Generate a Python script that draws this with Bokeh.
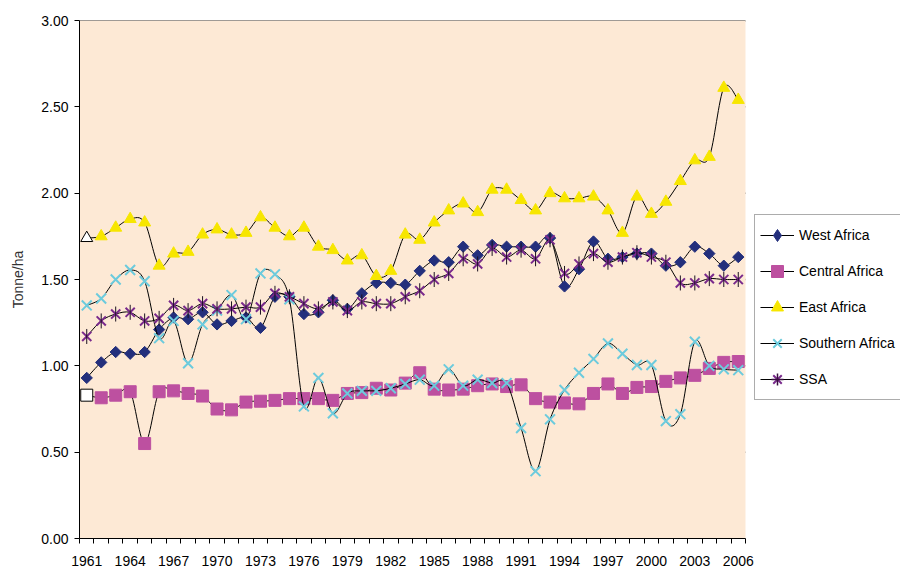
import numpy as np
from bokeh.plotting import figure
from bokeh.models import (FixedTicker, NumeralTickFormatter, Legend, LegendItem,
                          Range1d, BoxAnnotation)
from bokeh.embed import file_html
from bokeh.resources import INLINE

years = list(range(1961, 2007))
tick_years = list(range(1961, 2007, 3))

west_africa = [0.93, 1.02, 1.08, 1.07, 1.08, 1.21, 1.28, 1.27, 1.31, 1.24,
               1.26, 1.28, 1.22, 1.40, 1.40, 1.30, 1.31, 1.38, 1.33, 1.42,
               1.48, 1.48, 1.47, 1.55, 1.61, 1.60, 1.69, 1.64, 1.70, 1.69,
               1.69, 1.69, 1.74, 1.46, 1.56, 1.72, 1.62, 1.63, 1.65, 1.65,
               1.58, 1.60, 1.69, 1.65, 1.58, 1.63]
central_africa = [0.83, 0.815, 0.83, 0.85, 0.55, 0.85, 0.855, 0.84, 0.825, 0.75,
                  0.745, 0.79, 0.795, 0.80, 0.81, 0.81, 0.81, 0.80, 0.84, 0.845,
                  0.87, 0.86, 0.90, 0.96, 0.865, 0.86, 0.865, 0.885, 0.895, 0.88,
                  0.89, 0.81, 0.79, 0.785, 0.78, 0.84, 0.895, 0.84, 0.875, 0.88,
                  0.91, 0.93, 0.945, 0.985, 1.02, 1.025]
east_africa = [1.74, 1.75, 1.80, 1.85, 1.83, 1.58, 1.65, 1.66, 1.76, 1.79,
               1.76, 1.77, 1.86, 1.80, 1.75, 1.80, 1.69, 1.67, 1.61, 1.64,
               1.52, 1.55, 1.76, 1.73, 1.83, 1.90, 1.94, 1.89, 2.02, 2.02,
               1.96, 1.90, 2.00, 1.97, 1.97, 1.98, 1.90, 1.77, 1.98, 1.88,
               1.95, 2.07, 2.19, 2.21, 2.61, 2.54]
southern_africa = [1.35, 1.39, 1.50, 1.555, 1.49, 1.16, 1.26, 1.015, 1.24, 1.32,
                   1.41, 1.27, 1.535, 1.53, 1.385, 0.765, 0.93, 0.725, 0.84, 0.855,
                   0.855, 0.87, 0.895, 0.92, 0.885, 0.98, 0.885, 0.92, 0.90, 0.90,
                   0.64, 0.39, 0.69, 0.86, 0.96, 1.04, 1.13, 1.07, 1.005, 1.005,
                   0.68, 0.72, 1.14, 1.00, 0.98, 0.975]
ssa = [1.17, 1.26, 1.30, 1.31, 1.26, 1.275, 1.35, 1.32, 1.36, 1.33,
       1.33, 1.34, 1.34, 1.42, 1.40, 1.36, 1.33, 1.37, 1.32, 1.37,
       1.36, 1.36, 1.40, 1.435, 1.50, 1.535, 1.62, 1.59, 1.68, 1.63,
       1.67, 1.62, 1.73, 1.535, 1.59, 1.65, 1.60, 1.63, 1.655, 1.63,
       1.60, 1.48, 1.48, 1.505, 1.50, 1.50]

y_ticks = [0.0, 0.5, 1.0, 1.5, 2.0, 2.5, 3.0]
major_grid = [1.0, 2.0, 3.0]
minor_grid = [0.5, 1.5, 2.5]

FONT = "Liberation Sans"
NAVY = "#232f7c"
MAGENTA = "#bd50a0"
YELLOW = "#f7e600"
CYAN = "#6ccbdd"
PURPLE = "#7a2a8c"
PEACH = "#fde9d5"

W, H = 900, 568
LEFT, TOP, BOTTOM = 79, 20, 29
FRAME_W_DATA = 666          # pixel width of the data area (46 years)
x0 = years[0] - 0.5
x1 = years[-1] + 0.5
x_end = x0 + (x1 - x0) * (W - LEFT) / FRAME_W_DATA


def smooth(xs, ys):
    """Cubic Bezier pieces (Catmull-Rom style) through the data points."""
    X = np.asarray(xs, float)
    Y = np.asarray(ys, float)
    Xp = np.concatenate([[X[0]], X, [X[-1]]])
    Yp = np.concatenate([[Y[0]], Y, [Y[-1]]])
    i = np.arange(len(X) - 1)
    return dict(
        x0=X[:-1], y0=Y[:-1], x1=X[1:], y1=Y[1:],
        cx0=Xp[i + 1] + (Xp[i + 2] - Xp[i]) / 6,
        cy0=Yp[i + 1] + (Yp[i + 2] - Yp[i]) / 6,
        cx1=Xp[i + 2] - (Xp[i + 3] - Xp[i + 1]) / 6,
        cy1=Yp[i + 2] - (Yp[i + 3] - Yp[i + 1]) / 6,
    )


p = figure(width=W, height=H, output_backend="svg", toolbar_location=None,
           x_range=Range1d(x0, x_end), y_range=Range1d(0, 3),
           min_border_left=LEFT, min_border_right=0, min_border_top=TOP,
           min_border_bottom=BOTTOM)
p.background_fill_color = "white"
p.border_fill_color = "white"
p.outline_line_color = None
p.xgrid.visible = False
p.ygrid.visible = False

# plot-area background and grid lines limited to the data area
p.add_layout(BoxAnnotation(left=x0, right=x1, fill_color=PEACH, fill_alpha=1,
                           line_color=None, level="underlay"))
p.segment(x0=[x0] * len(minor_grid), x1=[x1] * len(minor_grid),
          y0=minor_grid, y1=minor_grid, line_color="#7a7a7a", line_width=1.5,
          level="underlay")
p.segment(x0=[x0] * len(major_grid), x1=[x1] * len(major_grid),
          y0=major_grid, y1=major_grid, line_color="black",
          line_width=[1, 1, 2], level="underlay")

# y axis
ya = p.yaxis[0]
ya.ticker = FixedTicker(ticks=y_ticks)
ya.formatter = NumeralTickFormatter(format="0.00")
ya.major_tick_out = 5
ya.major_tick_in = 0
ya.minor_tick_out = 0
ya.minor_tick_in = 0
ya.axis_line_color = "black"
ya.major_tick_line_color = "black"
ya.major_label_text_font = FONT
ya.major_label_text_font_size = "14px"
ya.major_label_text_color = "black"
ya.major_label_standoff = 6
ya.axis_label = "Tonne/ha"
ya.axis_label_text_font = FONT
ya.axis_label_text_font_size = "14px"
ya.axis_label_text_font_style = "normal"
ya.axis_label_text_color = "#333333"
ya.axis_label_standoff = 12

# x axis
xa = p.xaxis[0]
xa.bounds = (x0, x1)
xa.ticker = FixedTicker(ticks=tick_years,
                        minor_ticks=[y - 0.5 for y in years] + [x1])
xa.major_tick_out = 0
xa.major_tick_in = 0
xa.minor_tick_out = 5
xa.minor_tick_in = 0
xa.minor_tick_line_color = "black"
xa.axis_line_color = "black"
xa.major_label_text_font = FONT
xa.major_label_text_font_size = "14px"
xa.major_label_text_color = "black"
xa.major_label_standoff = 12

LINE = dict(line_color="black", line_width=1)

# West Africa (tiny diamond underneath supplies the legend symbol)
lw = p.bezier(**smooth(years, west_africa), **LINE)
sw_leg = p.scatter(years, west_africa, marker="diamond", size=1,
                   fill_color=NAVY, line_color=NAVY)
sw = p.scatter(years, west_africa, marker="square", angle=np.pi / 4, size=8,
               fill_color=NAVY, line_color=NAVY)

# Central Africa
lc = p.bezier(**smooth(years, central_africa), **LINE)
sc = p.scatter(years[1:], central_africa[1:], marker="square", size=12,
               fill_color=MAGENTA, line_color=MAGENTA)
p.scatter(years[:1], central_africa[:1], marker="square", size=12,
          fill_color="white", line_color="black", line_width=1)

# East Africa
le = p.bezier(**smooth(years, east_africa), **LINE)
se = p.scatter(years[1:], east_africa[1:], marker="triangle", size=12,
               fill_color=YELLOW, line_color=YELLOW)
p.scatter(years[:1], east_africa[:1], marker="triangle", size=12,
          fill_color="white", line_color="black", line_width=1)

# Southern Africa
ls = p.bezier(**smooth(years, southern_africa), **LINE)
ss = p.scatter(years, southern_africa, marker="x", size=14,
               line_color=CYAN, line_width=2)

# SSA (tiny cross underneath supplies the legend's vertical stroke)
la = p.bezier(**smooth(years, ssa), **LINE)
sa_leg = p.scatter(years, ssa, marker="cross", size=1,
                   line_color="#3a1040", line_width=1.5)
sa = p.scatter(years, ssa, marker="x", size=13, line_color=PURPLE, line_width=2)
p.scatter(years, ssa, marker="dash", angle=np.pi / 2, size=15,
          line_color="#1a1020", line_width=1)

legend = Legend(items=[
    LegendItem(label="West Africa", renderers=[lw, sw_leg]),
    LegendItem(label="Central Africa", renderers=[lc, sc]),
    LegendItem(label="East Africa", renderers=[le, se]),
    LegendItem(label="Southern Africa", renderers=[ls, ss]),
    LegendItem(label="SSA", renderers=[la, sa, sa_leg]),
], location=(675, 138))
legend.margin = 0
legend.padding = 5
legend.spacing = 6
legend.glyph_width = 34
legend.glyph_height = 30
legend.label_height = 30
legend.label_standoff = 5
legend.label_text_font = FONT
legend.label_text_font_size = "14px"
legend.label_text_color = "black"
legend.border_line_color = "#595959"
legend.border_line_width = 1
legend.background_fill_color = "white"
legend.background_fill_alpha = 1
p.add_layout(legend)

open("out.html", "w").write(file_html(p, INLINE))
